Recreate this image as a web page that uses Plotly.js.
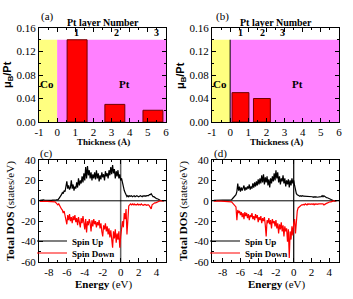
<!DOCTYPE html>
<html>
<head>
<meta charset="utf-8">
<script src="https://cdn.plot.ly/plotly-3.0.1.min.js"></script>
<style>html,body{margin:0;padding:0;background:#fff;}#chart{width:353px;height:299px;}</style>
</head>
<body>
<div id="chart"></div>
<script>
// ---------- Data: panels (a) and (b) ----------
const layerPosA = [1.1, 3.18, 5.28];
const momentA = [0.14, 0.03, 0.02];
const layerLabelPosA = [1.05, 3.27, 5.45];
const layerLabelsA = ["1", "2", "3"];

const layerPosB = [0.57, 1.75];
const momentB = [0.05, 0.04];
const layerLabelPosB = [0.58, 1.76, 2.88];
const layerLabelsB = ["1", "2", "3"];

// tick labels
const thickTicks = [-1, 0, 1, 2, 3, 4, 5, 6];
const thickTickText = ["-1", "0", "1", "2", "3", "4", "5", "6"];
const momentTicks = [0, 0.04, 0.08, 0.12, 0.16];
const momentTickText = ["0.00", "0.04", "0.08", "0.12", "0.16"];
const energyTicks = [-8, -6, -4, -2, 0, 2, 4];
const energyTickText = ["-8", "-6", "-4", "-2", "0", "2", "4"];
const dosTicks = [-60, -40, -20, 0, 20, 40];
const dosTickText = ["-60", "-40", "-20", "0", "20", "40"];

// ---------- Data: panels (c) and (d), total DOS ----------
const energy = [
-9.0,-8.9,-8.8,-8.7,-8.6,-8.5,-8.4,-8.3,-8.2,-8.1,
-8.0,-7.9,-7.8,-7.7,-7.6,-7.5,-7.4,-7.3,-7.2,-7.1,
-7.0,-6.9,-6.8,-6.7,-6.6,-6.5,-6.4,-6.3,-6.2,-6.1,
-6.0,-5.9,-5.8,-5.7,-5.6,-5.5,-5.4,-5.3,-5.2,-5.1,
-5.0,-4.9,-4.8,-4.7,-4.6,-4.5,-4.4,-4.3,-4.2,-4.1,
-4.0,-3.9,-3.8,-3.7,-3.6,-3.5,-3.4,-3.3,-3.2,-3.1,
-3.0,-2.9,-2.8,-2.7,-2.6,-2.5,-2.4,-2.3,-2.2,-2.1,
-2.0,-1.9,-1.8,-1.7,-1.6,-1.5,-1.4,-1.3,-1.2,-1.1,
-1.0,-0.9,-0.8,-0.7,-0.6,-0.5,-0.4,-0.3,-0.2,-0.1,
0.0,0.1,0.2,0.3,0.4,0.5,0.6,0.7,0.8,0.9,
1.0,1.1,1.2,1.3,1.4,1.5,1.6,1.7,1.8,1.9,
2.0,2.1,2.2,2.3,2.4,2.5,2.6,2.7,2.8,2.9,
3.0,3.1,3.2,3.3,3.4,3.5,3.6,3.7,3.8,3.9,
4.0,4.1,4.2,4.3,4.4,4.5,4.6,4.7,4.8];

const dosUpC = [
0.5,0.6,0.8,1.2,0.9,0.6,0.5,0.5,0.6,0.5,
0.5,0.5,0.6,0.5,0.7,0.6,0.5,0.8,0.9,1.0,
1,2,3,5,6,8,7,10,9,14,
19,12,15,11,13,20,12,16,10,14,
12,18,13,22,15,20,17,24,18,27,
20,33,22,34,25,30,22,28,20,26,
22,28,21,30,22,27,19,25,21,28,
23,26,20,29,24,27,22,30,25,33,
26,35,27,31,22,29,24,30,22,26,
20,22,17,14,10,8,6,4,5,4,
5,4.5,5,4,4.5,5,4,4.5,5,4.5,
4,4.5,5,4.5,4,5,4.5,5,4.5,5,
5,5,6,6,7,5,4,4,3,3,
2,2,1,1,0.5,0.2,0,0,0];

const dosDownC = [
-0.5,-0.6,-0.5,-0.8,-0.6,-0.5,-0.5,-0.6,-0.5,-0.5,
-0.5,-0.5,-0.6,-0.5,-0.5,-0.6,-0.8,-1,-2,-3,
-4,-3,-5,-6,-8,-9,-12,-10,-15,-18,
-23,-14,-19,-13,-20,-16,-22,-15,-19,-14,
-21,-17,-24,-16,-20,-26,-17,-22,-15,-20,
-28,-18,-31,-20,-24,-18,-22,-30,-19,-25,
-18,-23,-20,-26,-21,-24,-19,-27,-22,-30,
-35,-24,-28,-22,-30,-25,-33,-27,-36,-29,
-38,-46,-30,-37,-28,-41,-32,-38,-30,-46,
-35,-28,-20,-26,-12,-18,-8,-33,-10,-5,
-4,-3,-4,-3,-4,-3,-4,-3.5,-4,-3,
-4,-3.5,-4,-3,-4,-4.5,-4,-3.5,-4,-4.5,
-4,-4,-5,-6,-8,-4,-3,-3,-2,-2,
-1.5,-1,-0.5,-0.2,0,0,0,0,0];

const dosUpD = [
0.5,0.5,0.6,0.5,0.5,0.6,0.5,0.5,0.6,0.5,
0.5,0.5,0.6,0.5,0.5,0.6,0.5,0.6,0.7,0.8,
1,2,3,4,5,6,9,17,10,14,
9,13,10,12,15,10,13,11,14,12,
16,11,14,12,17,13,18,14,19,15,
21,16,22,17,25,18,26,16,23,18,
24,15,21,13,22,17,24,19,27,20,
30,22,28,18,24,16,22,19,25,17,
22,14,20,16,21,13,20,15,22,17,
20,15,10,7,6,5,5,4.5,5,4.5,
5,4.5,4.5,4,4.5,4,4.5,4,4,4.5,
4,4,3.5,4,3.5,4,3.5,3.5,4,3.5,
4,4,5,4,5,4,4,3,3,2.5,
2,1.5,1,0.5,0.3,0.1,0,0,0];

const dosDownD = [
-0.3,-0.4,-0.3,-0.3,-0.4,-0.3,-0.3,-0.4,-0.3,-0.3,
-0.3,-0.4,-0.3,-0.3,-0.4,-0.3,-0.4,-0.5,-0.6,-0.8,
-1,-2,-3,-4,-5,-6,-19,-9,-12,-10,
-14,-11,-16,-12,-18,-11,-15,-12,-17,-13,
-19,-14,-16,-12,-18,-15,-19,-13,-17,-14,
-21,-16,-19,-15,-22,-17,-20,-16,-24,-35,
-19,-22,-17,-23,-19,-27,-18,-22,-20,-25,
-19,-27,-22,-32,-23,-28,-21,-30,-24,-35,
-25,-30,-27,-40,-28,-56,-30,-38,-25,-34,
-22,-18,-32,-14,-10,-7,-6,-5,-5,-4,
-4,-3.5,-4,-3,-3.5,-4,-3,-3.5,-3,-3.5,
-3,-3.5,-3,-4,-3,-3.5,-3,-3.5,-3,-3,
-3.5,-3,-3.5,-3,-4,-3,-3,-2.5,-2,-2,
-1.5,-1,-1,-0.5,-0.3,-0.1,0,0,0];

// ---------- Styling ----------
const W = 353, H = 299;
const SERIF = "Liberation Serif";
const SANS = "Liberation Sans";
const px = v => v / W;
const py = v => 1 - v / H;

function axis(extra) {
  return Object.assign({
    showline: true, linecolor: "#000", linewidth: 1, mirror: "allticks",
    ticks: "inside", ticklen: 4, tickwidth: 1, tickcolor: "#000",
    showgrid: false, zeroline: false, fixedrange: true, tickmode: "array",
    tickfont: {family: SERIF, size: 11, color: "#000"}
  }, extra);
}
function minor(d) { return {dtick: d, tick0: 0, ticks: "inside", ticklen: 2, tickcolor: "#000", showgrid: false}; }

const domXL = [px(39), px(166)], domXR = [px(212), px(339)];
const domYT = [py(122), py(28)], domYB = [py(262), py(160)];

const traces = [
  {type: "bar", x: layerPosA, y: momentA, width: 1.1, xaxis: "x", yaxis: "y",
   marker: {color: "#ff0000", line: {color: "#700000", width: 1}}, showlegend: false, hoverinfo: "skip"},
  {type: "bar", x: layerPosB, y: momentB, width: 0.93, xaxis: "x2", yaxis: "y2",
   marker: {color: "#ff0000", line: {color: "#700000", width: 1}}, showlegend: false, hoverinfo: "skip"},
  {type: "scatter", mode: "lines", x: energy, y: dosUpC, xaxis: "x3", yaxis: "y3",
   name: "Spin Up", line: {color: "#000", width: 1.2}, legend: "legend"},
  {type: "scatter", mode: "lines", x: energy, y: dosDownC, xaxis: "x3", yaxis: "y3",
   name: "Spin Down", line: {color: "#ff0000", width: 1.2}, legend: "legend2"},
  {type: "scatter", mode: "lines", x: energy, y: dosUpD, xaxis: "x4", yaxis: "y4",
   name: "Spin Up", line: {color: "#000", width: 1.2}, legend: "legend3"},
  {type: "scatter", mode: "lines", x: energy, y: dosDownD, xaxis: "x4", yaxis: "y4",
   name: "Spin Down", line: {color: "#ff0000", width: 1.2}, legend: "legend4"}
];

function legendAt(xPix, yPix) {
  return {x: px(xPix), y: py(yPix), xanchor: "left", yanchor: "middle",
    bgcolor: "rgba(0,0,0,0)", borderwidth: 0,
    font: {family: SERIF, size: 9, color: "#000", weight: "bold"}};
}

const shapes = [];
[["x", "y"], ["x2", "y2"]].forEach(([xa, ya], i) => {
  shapes.push({type: "rect", xref: xa, yref: ya, x0: -1, x1: 0, y0: 0, y1: 0.14,
    fillcolor: "#ffff80", line: {width: 0}, layer: "below"});
  shapes.push({type: "rect", xref: xa, yref: ya, x0: 0, x1: 6, y0: 0, y1: 0.14,
    fillcolor: "#ff80ff", line: {width: 0}, layer: "below"});
  if (i === 1) shapes.push({type: "line", xref: xa, yref: ya, x0: 0, x1: 0, y0: 0, y1: 0.14,
    line: {color: "#000", width: 1}, layer: "below"});
});
shapes.push({type: "line", xref: "x3", yref: "y3 domain", x0: 0, x1: 0, y0: 0, y1: 1, line: {color: "#666", width: 1.5}, layer: "below"});
shapes.push({type: "line", xref: "x3 domain", yref: "y3", x0: 0, x1: 1, y0: 0, y1: 0, line: {color: "#000", width: 1}, layer: "below"});
shapes.push({type: "line", xref: "x4", yref: "y4 domain", x0: 0, x1: 0, y0: 0, y1: 1, line: {color: "#000", width: 1.2}, layer: "below"});
shapes.push({type: "line", xref: "x4 domain", yref: "y4", x0: 0, x1: 1, y0: 0, y1: 0, line: {color: "#000", width: 1}, layer: "below"});

const ann = [];
function txt(text, x, y, opts) {
  ann.push(Object.assign({text: text, x: x, y: y, xref: "paper", yref: "paper",
    showarrow: false, xanchor: "center", yanchor: "middle",
    font: {family: SERIF, size: 11, color: "#000"}}, opts || {}));
}
// panel letters
txt("(a)", px(47), py(17));
txt("(b)", px(222), py(17));
txt("(c)", px(46), py(153));
txt("(d)", px(221), py(153));
// panel labels
[["x", "y", layerLabelPosA, layerLabelsA, 39], ["x2", "y2", layerLabelPosB, layerLabelsB, 212]].forEach(([xa, ya, pos, labs, left]) => {
  pos.forEach((p, i) => txt("<b>" + labs[i] + "</b>", p, 0.1515, {xref: xa, yref: ya, font: {family: SERIF, size: 10, color: "#000"}}));
  txt("<b>Pt layer Number</b>", px(left + 63.5), py(22.5), {font: {family: SERIF, size: 10, color: "#000"}});
  txt("<b>Co</b>", -0.56, 0.064, {xref: xa, yref: ya, font: {family: SERIF, size: 11, color: "#000"}});
  txt("<b>Pt</b>", 3.71, 0.064, {xref: xa, yref: ya, font: {family: SERIF, size: 11, color: "#000"}});
  txt("<b>Thickness (Å)</b>", px(left + 64), py(141.5), {font: {family: SERIF, size: 9, color: "#000"}});
  txt("<b>μ<sub>B</sub>/Pt</b>", px(left - 31), py(75), {textangle: -90, font: {family: SANS, size: 11, color: "#000"}});
  txt("<b>Total DOS</b> (states/eV)", px(left - 29), py(211), {textangle: -90, font: {family: SERIF, size: 11, color: "#000"}});
  txt("<b>Energy</b> (eV)", px(left + 64), py(284.5), {font: {family: SERIF, size: 11, color: "#000"}});
});

const layout = {
  width: W, height: H, margin: {l: 0, r: 0, t: 0, b: 0},
  paper_bgcolor: "#fff", plot_bgcolor: "#fff", showlegend: true, bargap: 0,
  font: {family: SERIF, color: "#000"},
  xaxis: axis({domain: domXL, anchor: "y", range: [-1, 6], tickvals: thickTicks, ticktext: thickTickText, minor: minor(0.5)}),
  yaxis: axis({domain: domYT, anchor: "x", range: [0, 0.16], tickvals: momentTicks, ticktext: momentTickText, minor: minor(0.02)}),
  xaxis2: axis({domain: domXR, anchor: "y2", range: [-1, 6], tickvals: thickTicks, ticktext: thickTickText, minor: minor(0.5)}),
  yaxis2: axis({domain: domYT, anchor: "x2", range: [0, 0.16], tickvals: momentTicks, ticktext: momentTickText, minor: minor(0.02)}),
  xaxis3: axis({domain: domXL, anchor: "y3", range: [-9.1, 5.05], tickvals: energyTicks, ticktext: energyTickText, minor: minor(1)}),
  yaxis3: axis({domain: domYB, anchor: "x3", range: [-60, 40], tickvals: dosTicks, ticktext: dosTickText, minor: minor(10)}),
  xaxis4: axis({domain: domXR, anchor: "y4", range: [-9.2, 5.1], tickvals: energyTicks, ticktext: energyTickText, minor: minor(1)}),
  yaxis4: axis({domain: domYB, anchor: "x4", range: [-60, 40], tickvals: dosTicks, ticktext: dosTickText, minor: minor(10)}),
  legend: legendAt(32, 241),
  legend2: legendAt(32, 253),
  legend3: legendAt(205, 241),
  legend4: legendAt(205, 253),
  shapes: shapes,
  annotations: ann
};

Plotly.newPlot("chart", traces, layout, {displayModeBar: false, staticPlot: true});
</script>
</body>
</html>
